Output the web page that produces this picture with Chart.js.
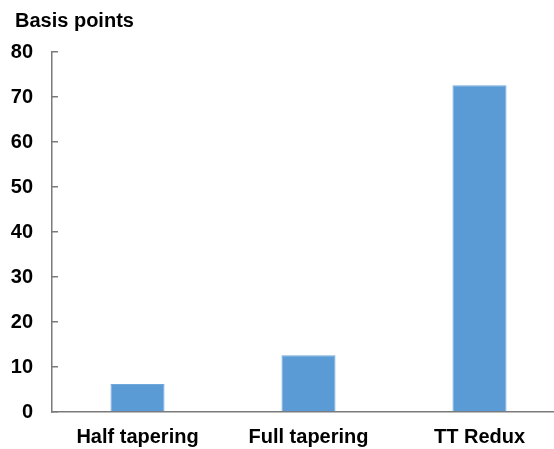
<!DOCTYPE html>
<html>
<head>
<meta charset="utf-8">
<script src="https://cdn.jsdelivr.net/npm/chart.js@4/dist/chart.umd.min.js"></script>
<style>
  html, body { margin: 0; padding: 0; overflow: hidden; background: #fff; }
  #wrap { position: absolute; left: 0; top: 0; width: 554px; height: 449px; overflow: hidden; }
  canvas { display: block; }
</style>
</head>
<body>
<div id="wrap"><canvas id="c" width="565" height="449"></canvas></div>
<script>
const categories = ["Half tapering", "Full tapering", "TT Redux"];
const basisPoints = [6.2, 12.6, 72.6];
const yTicks = [0, 10, 20, 30, 40, 50, 60, 70, 80];
const yTitle = "Basis points";

const FONT = "'Liberation Sans', Arial, Helvetica, sans-serif";
const AXIS = "#7a7a7a";

const unitTitle = {
  id: "unitTitle",
  afterDraw(chart) {
    const ctx = chart.ctx;
    ctx.save();
    ctx.fillStyle = "#000";
    ctx.font = "bold 20px " + FONT;
    ctx.textAlign = "left";
    ctx.textBaseline = "alphabetic";
    ctx.fillText(yTitle, 15, 27);
    ctx.restore();
  }
};

new Chart(document.getElementById("c"), {
  type: "bar",
  data: {
    labels: categories,
    datasets: [{
      data: basisPoints,
      backgroundColor: "#5b9bd5",
      borderColor: "#6fa7da",
      borderWidth: 1,
      categoryPercentage: 1,
      barPercentage: 0.316
    }]
  },
  options: {
    responsive: false,
    animation: false,
    devicePixelRatio: 1,
    layout: { padding: { left: 0, right: 0, top: 52, bottom: 0 } },
    plugins: {
      legend: { display: false },
      tooltip: { enabled: false },
      title: { display: false }
    },
    scales: {
      x: {
        offset: true,
        grid: { display: false, drawTicks: false },
        border: { display: true, color: AXIS, width: 1.5 },
        ticks: {
          color: "#000",
          padding: 13,
          font: { family: FONT, size: 20, weight: "bold" }
        },
        afterFit: s => { s.height = 36; }
      },
      y: {
        min: 0,
        max: 80,
        afterBuildTicks: s => { s.ticks = yTicks.map(v => ({ value: v })); },
        grid: { drawOnChartArea: false, drawTicks: true, tickLength: -6, tickColor: AXIS, lineWidth: 1.5 },
        border: { display: true, color: AXIS, width: 1.5 },
        ticks: {
          color: "#000",
          padding: 25,
          font: { family: FONT, size: 20, weight: "bold" }
        },
        afterFit: s => { s.width = 52; }
      }
    }
  },
  plugins: [unitTitle]
});
</script>
</body>
</html>
